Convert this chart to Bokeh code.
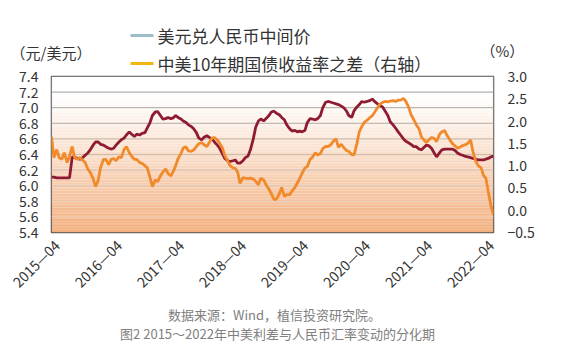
import math
import numpy as np
import pandas as pd
from bokeh.plotting import figure
from bokeh.layouts import column
from bokeh.models import (Range1d, LinearAxis, FixedTicker, DatetimeTickFormatter,
                          PrintfTickFormatter, Label, Span)
from bokeh.embed import file_html
from bokeh.resources import INLINE

# ---------------- data ----------------
dates = pd.date_range("2015-03-01", periods=172, freq="SMS")

usd_cny = [
    6.11, 6.11, 6.10, 6.10, 6.10, 6.10, 6.10, 6.10, 6.37, 6.36,
    6.35, 6.34, 6.36, 6.39, 6.42, 6.46, 6.52, 6.56, 6.56, 6.53,
    6.52, 6.50, 6.48, 6.47, 6.48, 6.52, 6.56, 6.59, 6.61, 6.65,
    6.69, 6.66, 6.63, 6.66, 6.65, 6.67, 6.68, 6.74, 6.81, 6.90,
    6.945, 6.95, 6.90, 6.855, 6.86, 6.875, 6.86, 6.87, 6.90, 6.875,
    6.855, 6.83, 6.81, 6.78, 6.76, 6.73, 6.68, 6.61, 6.59, 6.62,
    6.64, 6.62, 6.60, 6.56, 6.52, 6.48, 6.41, 6.35, 6.32, 6.31,
    6.32, 6.33, 6.29, 6.29, 6.32, 6.36, 6.38, 6.46, 6.60, 6.75,
    6.83, 6.855, 6.83, 6.86, 6.90, 6.945, 6.955, 6.93, 6.91, 6.875,
    6.845, 6.78, 6.73, 6.70, 6.71, 6.69, 6.70, 6.69, 6.71, 6.81,
    6.86, 6.855, 6.845, 6.86, 6.90, 7.00, 7.07, 7.08, 7.07, 7.06,
    7.05, 7.04, 7.02, 7.00, 6.96, 6.90, 6.875, 6.96, 7.01, 7.04,
    7.08, 7.07, 7.08, 7.09, 7.11, 7.08, 7.05, 7.03, 7.01, 6.96,
    6.90, 6.82, 6.78, 6.74, 6.69, 6.65, 6.60, 6.57, 6.55, 6.53,
    6.50, 6.50, 6.47, 6.46, 6.49, 6.52, 6.51, 6.48, 6.42, 6.37,
    6.42, 6.46, 6.47, 6.47, 6.47, 6.47, 6.45, 6.42, 6.40, 6.39,
    6.375, 6.37, 6.36, 6.35, 6.34, 6.33, 6.33, 6.33, 6.34, 6.35,
    6.37, 6.38,
]

spread = [
    1.65, 1.18, 1.36, 1.18, 1.14, 1.29, 1.07, 1.21, 1.43, 1.18,
    1.14, 1.18, 1.12, 1.07, 0.92, 0.85, 0.71, 0.53, 0.67, 0.96,
    1.14, 1.14, 1.02, 1.14, 1.16, 1.11, 1.20, 1.18, 1.36, 1.43,
    1.29, 1.21, 1.14, 1.14, 1.07, 1.05, 1.00, 0.95, 0.73, 0.53,
    0.68, 0.64, 0.77, 0.85, 0.93, 0.82, 0.77, 0.87, 1.00, 1.16,
    1.27, 1.40, 1.42, 1.33, 1.32, 1.35, 1.43, 1.49, 1.52, 1.47,
    1.43, 1.52, 1.62, 1.63, 1.58, 1.50, 1.40, 1.23, 1.11, 1.00,
    0.95, 0.94, 0.85, 0.60, 0.73, 0.72, 0.71, 0.72, 0.70, 0.65,
    0.57, 0.72, 0.68, 0.57, 0.47, 0.37, 0.24, 0.25, 0.37, 0.51,
    0.31, 0.35, 0.35, 0.43, 0.51, 0.61, 0.71, 0.83, 0.95, 0.98,
    1.14, 1.19, 1.29, 1.24, 1.27, 1.38, 1.43, 1.43, 1.47, 1.55,
    1.60, 1.41, 1.48, 1.41, 1.34, 1.32, 1.25, 1.24, 1.50, 1.76,
    1.88, 1.97, 2.02, 2.07, 2.12, 2.20, 2.30, 2.38, 2.42, 2.44,
    2.43, 2.45, 2.46, 2.44, 2.47, 2.47, 2.51, 2.44, 2.32, 2.15,
    2.03, 1.92, 1.82, 1.64, 1.58, 1.52, 1.58, 1.63, 1.61, 1.54,
    1.70, 1.76, 1.79, 1.68, 1.58, 1.50, 1.44, 1.39, 1.42, 1.45,
    1.47, 1.50, 1.58, 1.32, 1.09, 1.00, 0.95, 0.78, 0.72, 0.42,
    0.08, -0.10,
]

x_tick_labels = ["2015-04", "2016-04", "2017-04", "2018-04",
                 "2019-04", "2020-04", "2021-04", "2022-04"]
left_ticks = [5.4, 5.6, 5.8, 6.0, 6.2, 6.4, 6.6, 6.8, 7.0, 7.2, 7.4]
right_ticks = [-0.5, 0.0, 0.5, 1.0, 1.5, 2.0, 2.5, 3.0]

series1_name = "美元兑人民币中间价"
series2_name = "中美10年期国债收益率之差（右轴）"
left_unit = "（元/美元）"
right_unit = "（%）"
source_note = "数据来源：Wind，植信投资研究院。"
caption = "图2 2015～2022年中美利差与人民币汇率变动的分化期"

# ---------------- styling ----------------
FONT = "Noto Sans CJK SC"
MAROON = "#8e1b33"
ORANGE = "#f08a2b"
LEG1 = "#9dbdca"
LEG2 = "#f1b612"
TEXT = "#333333"
W = 570


def blank_figure(height):
    f = figure(width=W, height=height, output_backend="svg", toolbar_location=None,
               x_axis_location=None, y_axis_location=None,
               x_range=Range1d(0, W), y_range=Range1d(0, height),
               min_border=0, min_border_left=0, min_border_right=0,
               min_border_top=0, min_border_bottom=0, frame_align=False)
    f.grid.visible = False
    f.outline_line_color = None
    f.background_fill_color = None
    f.border_fill_color = None
    return f


def text(fig, txt, x, y, size, color, align="left"):
    fig.add_layout(Label(x=x, y=y, text=txt, text_font=FONT, text_font_size=size,
                         text_color=color, text_align=align, text_baseline="middle"))


# ---------------- header: legend keys + unit labels (pixel coordinates) ----------------
HH = 78
head = blank_figure(HH)
for (name, col, yy) in [(series1_name, LEG1, HH - 35), (series2_name, LEG2, HH - 63)]:
    head.line(x=[130, 153], y=[yy, yy], line_color=col, line_width=3)
    text(head, name, 157, yy, "17px", TEXT)
text(head, left_unit, 10, HH - 52, "15px", TEXT)
text(head, right_unit, 480, HH - 50, "15px", TEXT)

# ---------------- main chart ----------------
x_start, x_end = dates[0], dates[-1]
p = figure(width=W, height=235, x_axis_type="datetime",
           output_backend="svg", toolbar_location=None,
           x_range=Range1d(x_start, x_end),
           y_range=Range1d(left_ticks[0], left_ticks[-1]),
           min_border_left=51, min_border_right=77,
           min_border_top=10, min_border_bottom=64, frame_align=False)
p.margin = (-12, 0, 0, 0)
p.extra_y_ranges = {"right": Range1d(right_ticks[0], right_ticks[-1])}

p.background_fill_color = "white"
p.border_fill_color = None
p.outline_line_color = "#505050"
p.outline_line_width = 1.5
p.grid.visible = False

# gradient background (white at top -> peach at bottom)
edges = np.linspace(left_ticks[0], left_ticks[-1], 101)
bottoms, tops, cols = edges[:-1], edges[1:], []
top_rgb = np.array([255, 255, 255])
bot_rgb = np.array([242, 174, 124])
for b, t in zip(bottoms, tops):
    frac = (left_ticks[-1] - (b + t) / 2) / (left_ticks[-1] - left_ticks[0])
    f = min(max((frac - 0.12) / 0.85, 0.0), 1.0) ** 1.1
    c = top_rgb * (1 - f) + bot_rgb * f
    cols.append("#%02x%02x%02x" % tuple(int(round(v)) for v in c))
p.quad(left=[x_start] * len(bottoms), right=[x_end] * len(bottoms),
       bottom=bottoms, top=tops, fill_color=cols, line_color=None, level="image")

# horizontal grid lines, grey at the top, pale at the bottom
grid_top = np.array([150, 150, 150])
grid_bot = np.array([250, 222, 200])
for v in left_ticks[1:-1]:
    frac = (left_ticks[-1] - v) / (left_ticks[-1] - left_ticks[0])
    c = grid_top * (1 - frac) + grid_bot * frac
    p.add_layout(Span(location=v, dimension="width", line_width=1,
                      line_color="#%02x%02x%02x" % tuple(int(round(x)) for x in c),
                      level="underlay"))

# series
p.line(dates, usd_cny, line_color=MAROON, line_width=2.8)
p.line(dates, spread, line_color=ORANGE, line_width=2.8, y_range_name="right")

# axes
xa = p.xaxis[0]
xa.ticker = FixedTicker(ticks=[pd.Timestamp(s + "-01").value / 1e6 for s in x_tick_labels])
fmt = "%Y—%m"
xa.formatter = DatetimeTickFormatter(years=fmt, months=fmt, days=fmt, hours=fmt,
                                     hourmin=fmt, minutes=fmt, minsec=fmt, seconds=fmt,
                                     milliseconds=fmt, microseconds=fmt,
                                     boundary_scaling=False)
xa.major_label_orientation = math.pi / 4
xa.major_label_text_font = FONT
xa.major_label_text_font_size = "14px"
xa.major_label_text_color = TEXT
xa.axis_line_color = None
xa.major_tick_line_color = None
xa.minor_tick_line_color = None
xa.major_label_standoff = 4

ya = p.yaxis[0]
ya.ticker = FixedTicker(ticks=left_ticks)
ya.formatter = PrintfTickFormatter(format="%.1f")
ya.major_label_text_font = FONT
ya.major_label_text_font_size = "14px"
ya.major_label_text_color = TEXT
ya.axis_line_color = None
ya.major_tick_line_color = None
ya.minor_tick_line_color = None
ya.major_label_standoff = 7

ra = LinearAxis(y_range_name="right", ticker=FixedTicker(ticks=right_ticks),
                formatter=PrintfTickFormatter(format="%.1f"),
                major_label_overrides={-0.5: "−0.5"})
ra.major_label_text_font = FONT
ra.major_label_text_font_size = "14px"
ra.major_label_text_color = TEXT
ra.axis_line_color = None
ra.major_tick_line_color = None
ra.minor_tick_line_color = None
ra.major_label_standoff = 8
p.add_layout(ra, "right")

# ---------------- footer: captions ----------------
FH = 58
foot = blank_figure(FH)
text(foot, source_note, 274, FH - 13, "13px", "#808080", "center")
text(foot, caption, 277, FH - 32, "13px", "#808080", "center")

layout = column(head, p, foot, spacing=0)
open("out.html", "w").write(file_html(layout, INLINE))
